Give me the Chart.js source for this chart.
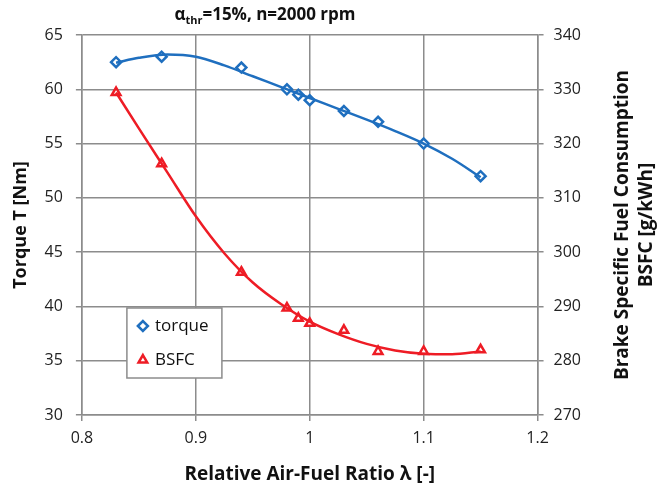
<!DOCTYPE html>
<html>
<head>
<meta charset="utf-8">
<script src="https://cdn.jsdelivr.net/npm/chart.js@4.4.1/dist/chart.umd.min.js"></script>
<style>
    html, body { margin: 0; padding: 0; background: #fff; }
    #wrap { position: relative; width: 661px; height: 491px; }
    #chart-title {
        position: absolute; top: 2px; left: 0; width: 530px; text-align: center;
        font-family: 'Open Sans', sans-serif; font-weight: bold; font-size: 17px; color: #111;
    }
    #chart-title sub { font-size: 11px; }
</style>
</head>
<body>
<div id="wrap">
    <canvas id="afr-chart" width="661" height="491"></canvas>
    <div id="chart-title">α<sub>thr</sub>=15%, n=2000 rpm</div>
</div>
<script>
// measured points
const lambda = [0.83, 0.87, 0.94, 0.98, 0.99, 1.0, 1.03, 1.06, 1.1, 1.15];
const torque = [62.5, 63.0, 62.0, 60.0, 59.5, 59.0, 58.0, 57.0, 55.0, 52.0];
const bsfc = [329.4, 316.3, 296.3, 289.7, 287.8, 286.9, 285.6, 281.7, 281.7, 282.0];

// trend curves
const fitX = [0.83, 0.85, 0.875, 0.9, 0.925, 0.95, 0.975, 1.0, 1.025, 1.05, 1.075, 1.1, 1.125, 1.15];
const torqueFit = [62.45, 62.9, 63.2, 63.0, 62.2, 61.2, 60.2, 59.2, 58.2, 57.2, 56.15, 55.0, 53.6, 51.9];
const bsfcFit = [329.4, 322.8, 314.7, 306.6, 299.8, 294.4, 290.4, 287.2, 284.9, 283.1, 281.9, 281.3, 281.2, 281.7];

const legendLabels = ['torque', 'BSFC'];
const rightTitle = ['Brake Specific Fuel Consumption', 'BSFC [g/kWh]'];

const BLUE = '#1f6fbf';
const RED = '#ee1c25';
const GRID = '#8c8c8c';
const FONT = "'Open Sans', sans-serif";

function toXY(xs, ys) {
    return xs.map((x, i) => ({ x: x, y: ys[i] }));
}

// legend box sitting inside the plot, like the spreadsheet one
const boxLegend = {
    id: 'boxLegend',
    afterDraw(chart) {
        const ctx = chart.ctx;
        const area = chart.chartArea;
        const left = area.left + 45, top = area.top + 273;
        const w = 95, h = 70;
        ctx.save();
        ctx.fillStyle = '#fff';
        ctx.fillRect(left, top, w, h);
        ctx.strokeStyle = GRID;
        ctx.lineWidth = 1.5;
        ctx.strokeRect(left, top, w, h);
        const styles = [
            { style: 'rectRot', color: BLUE },
            { style: 'triangle', color: RED }
        ];
        ctx.font = '17px ' + FONT;
        ctx.textBaseline = 'middle';
        legendLabels.forEach((label, i) => {
            const cy = top + 18 + i * 34;
            ctx.lineWidth = 2.5;
            ctx.strokeStyle = styles[i].color;
            ctx.fillStyle = '#fff';
            Chart.helpers.drawPoint(ctx, { pointStyle: styles[i].style, radius: 5, rotation: 0, borderWidth: 2.5 }, left + 16, cy);
            ctx.fillStyle = '#111';
            ctx.fillText(label, left + 28, cy);
        });
        ctx.restore();
    }
};

// right axis title reads bottom-to-top, so draw it by hand
const rightAxisTitle = {
    id: 'rightAxisTitle',
    afterDraw(chart) {
        const ctx = chart.ctx;
        const area = chart.chartArea;
        const cy = (area.top + area.bottom) / 2;
        ctx.save();
        ctx.font = 'bold 19px ' + FONT;
        ctx.fillStyle = '#111';
        ctx.textAlign = 'center';
        ctx.textBaseline = 'middle';
        rightTitle.forEach((line, i) => {
            ctx.save();
            ctx.translate(area.right + 85 + i * 24, cy);
            ctx.rotate(-Math.PI / 2);
            ctx.fillText(line, 0, 0);
            ctx.restore();
        });
        ctx.restore();
    }
};

new Chart(document.getElementById('afr-chart').getContext('2d'), {
    type: 'scatter',
    data: {
        datasets: [
            {
                label: 'torque fit',
                data: toXY(fitX, torqueFit),
                showLine: true,
                borderColor: BLUE,
                borderWidth: 2.5,
                pointRadius: 0,
                cubicInterpolationMode: 'monotone',
                yAxisID: 'y'
            },
            {
                label: 'BSFC fit',
                data: toXY(fitX, bsfcFit),
                showLine: true,
                borderColor: RED,
                borderWidth: 2.5,
                pointRadius: 0,
                cubicInterpolationMode: 'monotone',
                yAxisID: 'y2'
            },
            {
                label: legendLabels[0],
                data: toXY(lambda, torque),
                pointStyle: 'rectRot',
                pointRadius: 5,
                borderColor: BLUE,
                backgroundColor: '#fff',
                pointBorderWidth: 2.5,
                yAxisID: 'y'
            },
            {
                label: legendLabels[1],
                data: toXY(lambda, bsfc),
                pointStyle: 'triangle',
                pointRadius: 5,
                borderColor: RED,
                backgroundColor: '#fff',
                pointBorderWidth: 2.5,
                yAxisID: 'y2'
            }
        ]
    },
    options: {
        responsive: false,
        animation: false,
        layout: { padding: { top: 35, right: 70, bottom: 1, left: 10 } },
        scales: {
            x: {
                type: 'linear',
                min: 0.8,
                max: 1.2,
                ticks: {
                    stepSize: 0.1,
                    color: '#222',
                    font: { family: FONT, size: 16 },
                    padding: 8,
                    callback: v => Math.round(v * 10) / 10
                },
                grid: { color: GRID, lineWidth: 1.5, tickLength: 6, tickColor: GRID },
                border: { color: GRID, width: 1.5 },
                title: {
                    display: true,
                    text: 'Relative Air-Fuel Ratio λ [-]',
                    color: '#111',
                    font: { family: FONT, size: 19, weight: 'bold' },
                    padding: { top: 7 }
                }
            },
            y: {
                position: 'left',
                min: 30,
                max: 65,
                ticks: {
                    stepSize: 5,
                    color: '#222',
                    font: { family: FONT, size: 16 },
                    padding: 13
                },
                grid: { color: GRID, lineWidth: 1.5, tickLength: 6, tickColor: GRID },
                border: { color: GRID, width: 1.5 },
                title: {
                    display: true,
                    text: 'Torque T [Nm]',
                    color: '#111',
                    font: { family: FONT, size: 18, weight: 'bold' },
                    padding: { top: 0, bottom: 0 }
                }
            },
            y2: {
                position: 'right',
                min: 270,
                max: 340,
                ticks: {
                    stepSize: 10,
                    color: '#222',
                    font: { family: FONT, size: 16 },
                    padding: 10
                },
                grid: { drawOnChartArea: false, tickLength: 6, tickColor: GRID, lineWidth: 1.5 },
                border: { color: GRID, width: 1.5 }
            }
        },
        plugins: {
            legend: { display: false },
            tooltip: { enabled: false }
        }
    },
    plugins: [boxLegend, rightAxisTitle]
});
</script>
</body>
</html>
